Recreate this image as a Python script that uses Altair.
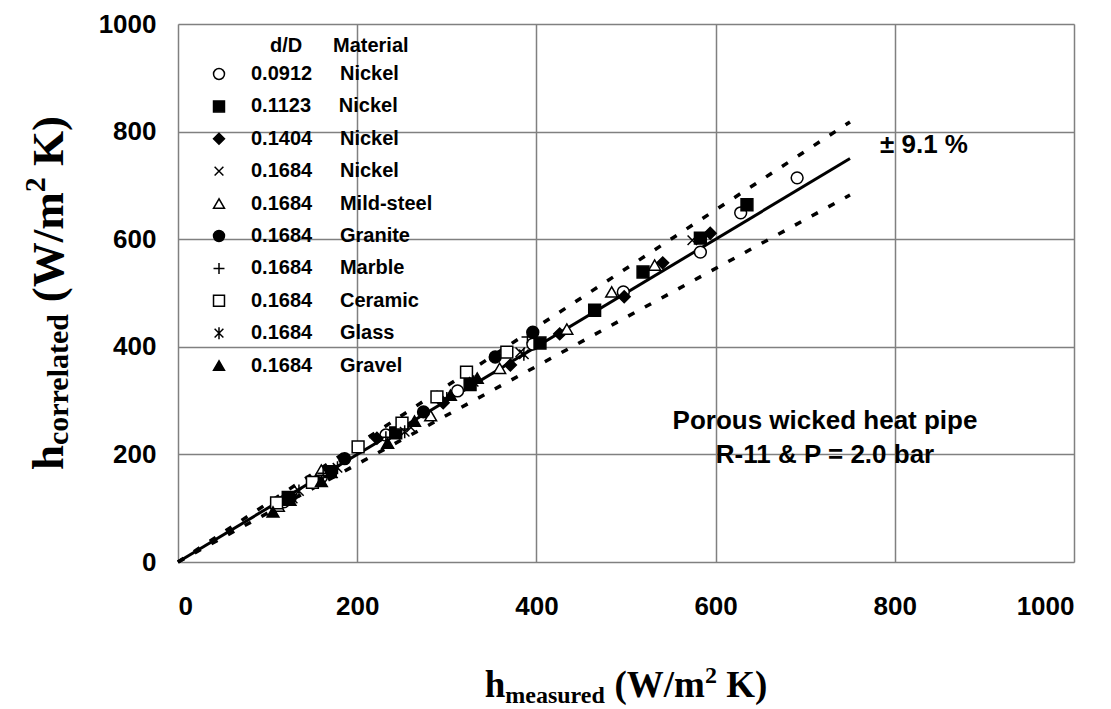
import altair as alt
import pandas as pd

# ---------------- data ----------------
GAP = "\u00a0" * 5
series_labels = [
    "0.0912" + GAP + "Nickel",
    "0.1123" + GAP + "Nickel",
    "0.1404" + GAP + "Nickel",
    "0.1684" + GAP + "Nickel",
    "0.1684" + GAP + "Mild-steel",
    "0.1684" + GAP + "Granite",
    "0.1684" + GAP + "Marble",
    "0.1684" + GAP + "Ceramic",
    "0.1684" + GAP + "Glass",
    "0.1684" + GAP + "Gravel",
]
series_shapes = [
    "circle", "square", "diamond", "M-0.8,-0.8L0.8,0.8M0.8,-0.8L-0.8,0.8", "triangle-up",
    "circle", "M-1,0L1,0M0,-1L0,1", "square",
    "M-0.8,-0.8L0.8,0.8M0.8,-0.8L-0.8,0.8M0,-1.1L0,1.1", "triangle-up",
]
series_fills = ["white", "black", "black", "black", "white",
                "black", "black", "white", "black", "black"]

hm_0912 = [691, 628, 583, 497, 396, 312, 232, 160, 118]
hc_0912 = [714, 649, 576, 502, 405, 318, 236, 158, 112]
hm_1123 = [635, 583, 519, 465, 404, 326, 243, 170, 123]
hc_1123 = [664, 602, 539, 468, 407, 330, 240, 168, 120]
hm_1404 = [594, 541, 498, 426, 371, 296, 222, 156, 112]
hc_1404 = [611, 556, 493, 424, 366, 296, 230, 150, 108]
hm_ni1684 = [574, 382, 260, 173, 128]
hc_ni1684 = [598, 390, 250, 165, 118]
hm_steel = [532, 484, 434, 359, 282, 160, 112]
hc_steel = [552, 502, 433, 360, 272, 171, 104]
hm_granite = [396, 354, 274, 186, 125]
hc_granite = [427, 381, 279, 192, 118]
hm_marble = [390, 300, 232, 162, 120]
hc_marble = [418, 305, 232, 165, 116]
hm_ceramic = [367, 322, 289, 250, 201, 150, 110]
hc_ceramic = [390, 353, 307, 258, 214, 148, 110]
hm_glass = [386, 330, 253, 178, 135]
hc_glass = [386, 335, 242, 175, 132]
hm_gravel = [334, 304, 264, 234, 160, 125, 106]
hc_gravel = [342, 310, 262, 221, 150, 115, 93]

line_x = [0, 750]
line_y = [0, 750]
upper_y = [0, 818]
lower_y = [0, 682]

tick_values = [0, 200, 400, 600, 800, 1000]

# ---------------- tables ----------------
all_hm = [hm_0912, hm_1123, hm_1404, hm_ni1684, hm_steel, hm_granite,
          hm_marble, hm_ceramic, hm_glass, hm_gravel]
all_hc = [hc_0912, hc_1123, hc_1404, hc_ni1684, hc_steel, hc_granite,
          hc_marble, hc_ceramic, hc_glass, hc_gravel]
rows = []
for lab, xs, ys in zip(series_labels, all_hm, all_hc):
    for a, b in zip(xs, ys):
        rows.append({"hm": a, "hc": b, "series": lab})
pts = pd.DataFrame(rows)

solid = pd.DataFrame({"x": line_x, "y": line_y})
dashed = pd.DataFrame({
    "x": line_x + line_x,
    "y": upper_y + lower_y,
    "k": ["up", "up", "low", "low"],
})

W, H = 896, 538
SANS = "Liberation Sans"
SERIF = "Liberation Serif"

xscale = alt.Scale(domain=[0, 1000], nice=False)
yscale = alt.Scale(domain=[0, 1000], nice=False)

axis_common = dict(
    values=tick_values, grid=True, gridColor="#808080", gridWidth=1.5,
    ticks=False, tickSize=0, domain=False, title=None, format="d",
    labelFont=SANS, labelFontSize=26, labelFontWeight="bold", labelColor="black",
)
xaxis = alt.Axis(labelPadding=31, **axis_common)
yaxis = alt.Axis(labelPadding=22, **axis_common)

legend = alt.Legend(
    orient="none", legendX=31, legendY=40, title=None,
    labelFont=SANS, labelFontSize=20, labelFontWeight="bold", labelColor="black",
    labelLimit=500, labelOffset=22,
    symbolSize=120, symbolStrokeColor="black", symbolStrokeWidth=1.5,
    symbolOpacity=1, rowPadding=12.4, padding=0,
)

line_solid = alt.Chart(solid).mark_line(color="black", strokeWidth=3).encode(
    x=alt.X("x:Q", scale=xscale, axis=xaxis),
    y=alt.Y("y:Q", scale=yscale, axis=yaxis),
)
line_dash = alt.Chart(dashed).mark_line(
    color="black", strokeWidth=3.5, strokeDash=[7, 12]
).encode(
    x=alt.X("x:Q", scale=xscale),
    y=alt.Y("y:Q", scale=yscale),
    detail="k:N",
)
points = alt.Chart(pts).mark_point(
    opacity=1, strokeWidth=1.5, size=140
).encode(
    x=alt.X("hm:Q", scale=xscale),
    y=alt.Y("hc:Q", scale=yscale),
    shape=alt.Shape("series:N", scale=alt.Scale(domain=series_labels, range=series_shapes),
                    legend=legend),
    fill=alt.Fill("series:N", scale=alt.Scale(domain=series_labels, range=series_fills),
                  legend=legend),
    stroke=alt.Stroke("series:N", scale=alt.Scale(domain=series_labels, range=["black"] * 10),
                      legend=legend),
)


def txt(s, x, y, size, font=SANS, angle=0, align="left", weight="bold"):
    return alt.Chart(pd.DataFrame({"t": [s]})).mark_text(
        font=font, fontSize=size, fontWeight=weight, angle=angle, align=align,
        baseline="alphabetic", color="black",
    ).encode(x=alt.value(x), y=alt.value(y), text="t:N")


# widths of Times-like bold glyphs (em)
TW = {"h": .556, "c": .444, "o": .5, "r": .444, "e": .444, "l": .278, "a": .5,
      "t": .333, "d": .556, "m": .833, "s": .389, "u": .556, "(": .333,
      "W": 1.0, "/": .278, "K": .778, ")": .333, "2": .5}


def tw(s, size):
    return sum(TW.get(ch, .5) for ch in s) * size


# (text, font size, baseline offset, gap before in em of main font)
# x-axis title: h_measured (W/m^2 K)
FX, SX = 37, 24
parts_x = [("h", FX, 0, 0), ("measured", SX, 6, 0), ("(W/m", FX, 0, .25), ("2", SX, -14, 0),
           ("K)", FX, 0, .25)]
total = sum(tw(p, s) + g * FX for p, s, _, g in parts_x)
cx = W / 2 - total / 2
base_x = H + 135
xtitle = []
for p, s, off, g in parts_x:
    cx += g * FX
    xtitle.append(txt(p, cx, base_x + off, s, font=SERIF))
    cx += tw(p, s)

# y-axis title: h_correlated (W/m^2 K)
FY, SY = 45, 30
parts_y = [("h", FY, 0, 0), ("correlated", SY, 5, 0), ("(W/m", FY, 0, .25), ("2", SY, -18, 0),
           ("K)", FY, 0, .25)]
total = sum(tw(p, s) + g * FY for p, s, _, g in parts_y)
cy = H / 2 + total / 2
base_y = -115
ytitle = []
for p, s, off, g in parts_y:
    cy -= g * FY
    ytitle.append(txt(p, base_y + off, cy, s, font=SERIF, angle=270))
    cy -= tw(p, s)

ann = [
    txt("d/D", 92, 28, 20),
    txt("Material", 155, 28, 20),
    txt("\u00b1 9.1 %", 702, 129, 26),
    txt("Porous wicked heat pipe", 647, 405, 26, align="center"),
    txt("R-11 & P = 2.0 bar", 647, 439, 26, align="center"),
]

chart = alt.layer(line_solid, line_dash, points, *ann, *xtitle, *ytitle).properties(
    width=W, height=H,
    padding={"left": 178, "top": 24, "right": 37, "bottom": 147},
    autosize=alt.AutoSizeParams(type="none"),
).configure_view(stroke="black", strokeWidth=3).configure(background="white")

chart.save("out.html", embed_options={"renderer": "svg", "actions": False})
